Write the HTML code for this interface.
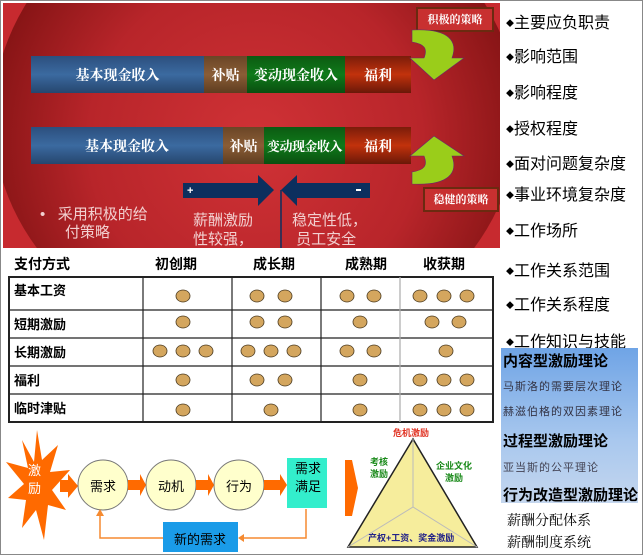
<!DOCTYPE html>
<html><head><meta charset="utf-8"><style>
body{margin:0;width:643px;height:555px;background:#fff;position:relative;overflow:hidden;font-family:"Liberation Sans","Noto Sans CJK SC",sans-serif}
.a{position:absolute}
.r{font-size:16px;color:#000;left:506px;white-space:nowrap}
.r b{font-size:8px;font-weight:normal;vertical-align:2px}
.w{color:#fff;font-family:"Liberation Serif","Noto Serif CJK SC",serif;font-weight:bold;font-size:14px;display:flex;align-items:center;justify-content:center;position:absolute;top:0;bottom:0;white-space:nowrap;overflow:visible}
</style></head><body>
<div class="a" style="left:0;top:0;width:643px;height:555px;border:1px solid #888;box-sizing:border-box"></div>
<div class="a" style="left:3px;top:3px;width:497px;height:245px;background:#c72a2f;overflow:hidden">
 <div class="a" style="left:-10px;top:-120px;width:525px;height:470px;border-radius:50%;background:radial-gradient(ellipse at 50% 55%,#d03236 0%,#b8252a 45%,#7a1010 80%,#6a0c0c 100%)"></div>
</div>
<div class="a" style="left:31px;top:56px;width:380px;height:37px">
 <div class="w" style="left:0;width:173px;background:linear-gradient(#2c4f7e,#3b6aa0 50%,#26466e)">基本现金收入</div>
 <div class="w" style="left:173px;width:43px;background:linear-gradient(#6a4526,#8a5d36 50%,#5e3d20)">补贴</div>
 <div class="w" style="left:216px;width:98px;background:linear-gradient(#0c5a12,#0f7a1a 50%,#0a4e10)">变动现金收入</div>
 <div class="w" style="left:314px;width:66px;background:linear-gradient(#7a1c0a,#c2320c 50%,#6a1808)">福利</div>
</div>
<div class="a" style="left:31px;top:127px;width:380px;height:37px">
 <div class="w" style="left:0;width:192px;background:linear-gradient(#2c4f7e,#3b6aa0 50%,#26466e)">基本现金收入</div>
 <div class="w" style="left:192px;width:41px;background:linear-gradient(#6a4526,#8a5d36 50%,#5e3d20)">补贴</div>
 <div class="w" style="left:233px;width:81px;background:linear-gradient(#0c5a12,#0f7a1a 50%,#0a4e10);font-size:13px;letter-spacing:-0.5px">变动现金收入</div>
 <div class="w" style="left:314px;width:66px;background:linear-gradient(#7a1c0a,#c2320c 50%,#6a1808)">福利</div>
</div>
<div class="a" style="left:416px;top:7px;width:74px;height:21px;background:#c83030;border:2px solid #6b2a10;color:#fff;font-family:'Noto Serif CJK SC',serif;font-weight:bold;font-size:11px;text-align:center;line-height:21px">积极的策略</div>
<div class="a" style="left:423px;top:187px;width:72px;height:21px;background:#c83030;border:2px solid #6b2a10;color:#fff;font-family:'Noto Serif CJK SC',serif;font-weight:bold;font-size:11px;text-align:center;line-height:21px">稳健的策略</div>
<svg class="a" style="left:0;top:0" width="643" height="555">
 <path d="M412,30 C450,28 458,42 452,58 L464,58 L434,80 L410,58 L424,58 C428,48 424,44 412,42 Z" fill="#9acd1a" stroke="#6a2a6a" stroke-width="0.6"/>
 <path d="M412,184 C450,186 458,172 452,156 L464,156 L434,136 L410,156 L424,156 C428,166 424,170 412,172 Z" fill="#9acd1a" stroke="#6a2a6a" stroke-width="0.6"/>
 <polygon points="183,183 258,183 258,175 274,190 258,206 258,198 183,198" fill="#0c2f5e"/>
 <polygon points="370,183 297,183 297,175 281,190 297,206 297,198 370,198" fill="#0c2f5e"/>
 <text x="187" y="194" fill="#fff" font-size="11" font-weight="bold">+</text>
 <rect x="356" y="189" width="5" height="2" fill="#fff"/>
 <line x1="281" y1="190" x2="281" y2="248" stroke="#0c2f5e" stroke-width="1.5"/>
 <polygon points="37,430 42,460 58,445 50,472 70,470 52,490 66,510 48,505 44,540 36,510 22,528 26,500 8,498 24,484 6,462 28,468 22,440 34,462" fill="#ff6a00"/>
 <polygon points="60,480 68,480 68,474 78,486 68,498 68,492 60,492" fill="#ff6a00"/>
 <ellipse cx="103" cy="485" rx="25" ry="25" fill="#ffffcc" stroke="#777" stroke-width="1"/>
 <ellipse cx="171" cy="485" rx="25" ry="25" fill="#ffffcc" stroke="#777" stroke-width="1"/>
 <ellipse cx="239" cy="485" rx="25" ry="25" fill="#ffffcc" stroke="#777" stroke-width="1"/>
 <polygon points="128,480 140,480 140,474 146,485 140,496 140,490 128,490" fill="#ff6a00"/>
 <polygon points="196,480 208,480 208,474 214,485 208,496 208,490 196,490" fill="#ff6a00"/>
 <polygon points="264,480 280,480 280,474 287,485 280,496 280,490 264,490" fill="#ff6a00"/>
 <rect x="287" y="458" width="40" height="50" fill="#33eecc"/>
 <path d="M306,509 V538 H244" fill="none" stroke="#f58a30" stroke-width="1.5"/>
 <polygon points="244,534 238,538 244,542" fill="#f58a30"/>
 <rect x="163" y="522" width="75" height="30" fill="#1a9be8"/>
 <path d="M163,538 H100 V516" fill="none" stroke="#f58a30" stroke-width="1.5"/>
 <polygon points="96,516 100,509 104,516" fill="#f58a30"/>
 <polygon points="345,460 352,460 358,488 352,516 345,516" fill="#ff6a00"/>
 <polygon points="413,439 348,547 477,547" fill="#f6ed9c" stroke="#222" stroke-width="1.5"/>
 <path d="M413,439 V507 M348,547 L413,507 L477,547" stroke="#bbb" stroke-width="1" fill="none"/>
</svg>
<div class="a" style="left:90px;top:476px;font-size:13px">需求</div>
<div class="a" style="left:158px;top:476px;font-size:13px">动机</div>
<div class="a" style="left:226px;top:476px;font-size:13px">行为</div>
<div class="a" style="left:293px;top:460px;font-size:13px;line-height:18px;width:30px;text-align:center">需求满足</div>
<div class="a" style="left:174px;top:529px;font-size:13px">新的需求</div>
<div class="a" style="left:28px;top:462px;font-size:13px;color:#fff;line-height:18px;width:20px">激励</div>
<div class="a" style="left:393px;top:426px;font-size:9px;color:#e03020;font-weight:bold">危机激励</div>
<div class="a" style="left:370px;top:456px;font-size:9px;color:#1a8a1a;font-weight:bold;line-height:12px">考核<br>激励</div>
<div class="a" style="left:436px;top:460px;font-size:9px;color:#1a8a1a;font-weight:bold;line-height:12px;text-align:center">企业文化<br>激励</div>
<div class="a" style="left:368px;top:531px;font-size:9px;color:#222288;font-weight:bold">产权+工资、奖金激励</div>
<div class="a" style="left:40px;top:206px;color:#f2d0d0;font-size:15px;line-height:18px">•&nbsp;&nbsp;&nbsp;采用积极的给<br>&nbsp;&nbsp;&nbsp;&nbsp;&nbsp;&nbsp;付策略</div>
<div class="a" style="left:193px;top:211px;color:#f2d0d0;font-size:15px;line-height:19px">薪酬激励<br>性较强，</div>
<div class="a" style="left:292px;top:211px;color:#f2d0d0;font-size:15px;line-height:19px">稳定性低，<br>&nbsp;员工安全</div>
<div class="a" style="left:14px;top:254px;font-size:14px;font-weight:bold">支付方式</div>
<div class="a" style="left:155px;top:254px;font-size:14px;font-weight:bold">初创期</div>
<div class="a" style="left:253px;top:254px;font-size:14px;font-weight:bold">成长期</div>
<div class="a" style="left:345px;top:254px;font-size:14px;font-weight:bold">成熟期</div>
<div class="a" style="left:423px;top:254px;font-size:14px;font-weight:bold">收获期</div>
<svg class="a" style="left:0;top:0" width="500" height="430">
 <rect x="9" y="277" width="484" height="145" fill="none" stroke="#222" stroke-width="2"/>
 <g stroke="#222" stroke-width="1.2"><line x1="9" y1="310" x2="493" y2="310"/><line x1="9" y1="338" x2="493" y2="338"/><line x1="9" y1="366" x2="493" y2="366"/><line x1="9" y1="394" x2="493" y2="394"/>
 <line x1="143" y1="277" x2="143" y2="422"/><line x1="232" y1="277" x2="232" y2="422"/><line x1="321" y1="277" x2="321" y2="422"/></g>
 <line x1="400" y1="277" x2="400" y2="422" stroke="#aaa" stroke-width="1.2"/>
 <g fill="#d4a65e" stroke="#4a3a20" stroke-width="0.8">
 <ellipse cx="183" cy="296" rx="7" ry="6"/>
 <ellipse cx="257" cy="296" rx="7" ry="6"/><ellipse cx="285" cy="296" rx="7" ry="6"/>
 <ellipse cx="347" cy="296" rx="7" ry="6"/><ellipse cx="374" cy="296" rx="7" ry="6"/>
 <ellipse cx="420" cy="296" rx="7" ry="6"/><ellipse cx="444" cy="296" rx="7" ry="6"/><ellipse cx="467" cy="296" rx="7" ry="6"/>
 <ellipse cx="183" cy="322" rx="7" ry="6"/>
 <ellipse cx="257" cy="322" rx="7" ry="6"/><ellipse cx="285" cy="322" rx="7" ry="6"/>
 <ellipse cx="360" cy="322" rx="7" ry="6"/>
 <ellipse cx="432" cy="322" rx="7" ry="6"/><ellipse cx="459" cy="322" rx="7" ry="6"/>
 <ellipse cx="160" cy="351" rx="7" ry="6"/><ellipse cx="183" cy="351" rx="7" ry="6"/><ellipse cx="206" cy="351" rx="7" ry="6"/>
 <ellipse cx="248" cy="351" rx="7" ry="6"/><ellipse cx="271" cy="351" rx="7" ry="6"/><ellipse cx="294" cy="351" rx="7" ry="6"/>
 <ellipse cx="347" cy="351" rx="7" ry="6"/><ellipse cx="374" cy="351" rx="7" ry="6"/>
 <ellipse cx="446" cy="351" rx="7" ry="6"/>
 <ellipse cx="183" cy="380" rx="7" ry="6"/>
 <ellipse cx="257" cy="380" rx="7" ry="6"/><ellipse cx="285" cy="380" rx="7" ry="6"/>
 <ellipse cx="360" cy="380" rx="7" ry="6"/>
 <ellipse cx="420" cy="380" rx="7" ry="6"/><ellipse cx="444" cy="380" rx="7" ry="6"/><ellipse cx="467" cy="380" rx="7" ry="6"/>
 <ellipse cx="183" cy="410" rx="7" ry="6"/>
 <ellipse cx="271" cy="410" rx="7" ry="6"/>
 <ellipse cx="360" cy="410" rx="7" ry="6"/>
 <ellipse cx="420" cy="410" rx="7" ry="6"/><ellipse cx="444" cy="410" rx="7" ry="6"/><ellipse cx="467" cy="410" rx="7" ry="6"/>
 </g>
</svg>
<div class="a" style="left:14px;top:280px;font-size:13px;font-weight:bold">基本工资</div>
<div class="a" style="left:14px;top:314px;font-size:13px;font-weight:bold">短期激励</div>
<div class="a" style="left:14px;top:342px;font-size:13px;font-weight:bold">长期激励</div>
<div class="a" style="left:14px;top:370px;font-size:13px;font-weight:bold">福利</div>
<div class="a" style="left:14px;top:398px;font-size:13px;font-weight:bold">临时津贴</div>
<div class="a r" style="top:9px"><b>◆</b>主要应负职责</div>
<div class="a r" style="top:43px"><b>◆</b>影响范围</div>
<div class="a r" style="top:79px"><b>◆</b>影响程度</div>
<div class="a r" style="top:115px"><b>◆</b>授权程度</div>
<div class="a r" style="top:150px"><b>◆</b>面对问题复杂度</div>
<div class="a r" style="top:181px"><b>◆</b>事业环境复杂度</div>
<div class="a r" style="top:217px"><b>◆</b>工作场所</div>
<div class="a r" style="top:257px"><b>◆</b>工作关系范围</div>
<div class="a r" style="top:291px"><b>◆</b>工作关系程度</div>
<div class="a r" style="top:328px"><b>◆</b>工作知识与技能</div>
<div class="a" style="left:501px;top:348px;width:137px;height:155px;background:linear-gradient(#6fa4e6,#a9c8ee 60%,#c4d6ee)"></div>
<div class="a" style="left:503px;top:350px;font-size:15px;font-weight:bold">内容型激励理论</div>
<div class="a" style="left:503px;top:378px;font-size:11px;color:#334;letter-spacing:1px">马斯洛的需要层次理论</div>
<div class="a" style="left:503px;top:403px;font-size:11px;color:#334;letter-spacing:1px">赫滋伯格的双因素理论</div>
<div class="a" style="left:503px;top:430px;font-size:15px;font-weight:bold">过程型激励理论</div>
<div class="a" style="left:503px;top:459px;font-size:11px;color:#445;letter-spacing:1px">亚当斯的公平理论</div>
<div class="a" style="left:503px;top:484px;font-size:15px;font-weight:bold">行为改造型激励理论</div>
<div class="a" style="left:507px;top:510px;font-size:14px;font-family:'Noto Serif CJK SC',serif">薪酬分配体系</div>
<div class="a" style="left:507px;top:532px;font-size:14px;font-family:'Noto Serif CJK SC',serif">薪酬制度系统</div>
</body></html>
